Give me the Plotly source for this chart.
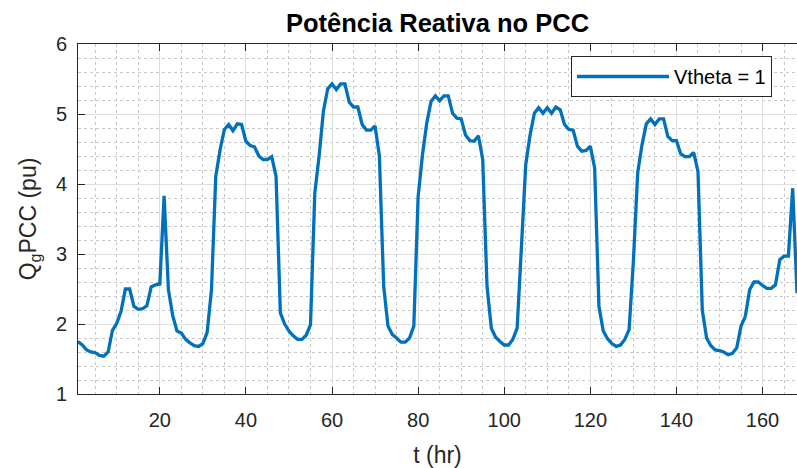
import plotly.graph_objects as go

hours = list(range(1, 169))
q_pcc = [
    1.75, 1.70, 1.63, 1.60, 1.59, 1.55, 1.54, 1.60, 1.91, 2.01, 2.18, 2.50,
    2.50, 2.25, 2.21, 2.22, 2.26, 2.53, 2.56, 2.57, 3.83, 2.49, 2.12, 1.90,
    1.87, 1.78, 1.73, 1.69, 1.68, 1.72, 1.88, 2.49, 4.11, 4.49, 4.78, 4.85,
    4.76, 4.86, 4.85, 4.61, 4.55, 4.53, 4.40, 4.35, 4.35, 4.39, 4.11, 2.16,
    2.00, 1.90, 1.83, 1.78, 1.78, 1.84, 1.99, 3.87, 4.40, 5.04, 5.36, 5.43,
    5.35, 5.43, 5.43, 5.17, 5.10, 5.10, 4.85, 4.77, 4.77, 4.83, 4.40, 2.54,
    1.97, 1.85, 1.80, 1.74, 1.74, 1.80, 1.97, 3.82, 4.41, 4.87, 5.18, 5.26,
    5.19, 5.26, 5.26, 5.01, 4.94, 4.93, 4.70, 4.62, 4.61, 4.69, 4.35, 2.54,
    1.94, 1.81, 1.75, 1.70, 1.70, 1.78, 1.94, 3.20, 4.28, 4.70, 5.01, 5.09,
    5.01, 5.09, 5.01, 5.10, 5.06, 4.85, 4.78, 4.77, 4.54, 4.47, 4.48, 4.54,
    4.23, 2.25, 1.90, 1.79, 1.72, 1.68, 1.70, 1.78, 1.92, 2.90, 4.16, 4.56,
    4.86, 4.93, 4.85, 4.93, 4.93, 4.68, 4.62, 4.62, 4.43, 4.39, 4.39, 4.45,
    4.18, 2.20, 1.80, 1.69, 1.63, 1.62, 1.60, 1.56, 1.58, 1.66, 1.97, 2.11,
    2.49, 2.60, 2.60, 2.55, 2.51, 2.51, 2.56, 2.92, 2.97, 2.97, 3.94, 2.44,
]
series_name = "Vtheta = 1"
title_text = "Potência Reativa no PCC"
x_label = "t (hr)"
y_label = "Q<sub>g</sub>PCC (pu)"
x_ticks = [20, 40, 60, 80, 100, 120, 140, 160]
y_ticks = [1, 2, 3, 4, 5, 6]

FONT = "Liberation Sans, Arial, Helvetica, sans-serif"
AX = "#262626"

W, H = 797, 468
L, T, B, R = 78, 44, 74, 0
PW, PH = W - L - R, H - T - B

fig = go.Figure()
fig.add_trace(go.Scatter(
    x=hours, y=q_pcc, mode="lines", name=series_name,
    line=dict(color="#0072BD", width=3.3),
))

fig.update_layout(
    width=W, height=H,
    paper_bgcolor="white", plot_bgcolor="white",
    margin=dict(l=L, r=R, t=T, b=B, autoexpand=False),
    font=dict(family=FONT, size=20, color=AX),
    title=dict(text="<b>" + title_text + "</b>", x=(L + PW / 2) / W, xanchor="center",
               y=1 - 23 / H, yanchor="middle", font=dict(size=25.5, color="black")),
    showlegend=True,
    legend=dict(x=(772 - L) / PW, xanchor="right", y=1 - (56 - T) / PH, yanchor="top",
                bgcolor="white", bordercolor="#262626", borderwidth=1,
                font=dict(size=20, color="black"), itemwidth=92,
                tracegroupgap=0),
)

fig.update_xaxes(
    range=[1, 168], tickmode="array", tickvals=x_ticks, ticktext=[str(v) for v in x_ticks],
    showline=True, linecolor=AX, linewidth=1, mirror="ticks",
    ticks="inside", ticklen=7, tickcolor=AX, ticklabelstandoff=8,
    showgrid=True, gridcolor="#dfdfdf", gridwidth=1,
    minor=dict(dtick=5, tick0=0, showgrid=True, gridcolor="#c8c8c8", griddash="dot", gridwidth=1, ticks=""),
    zeroline=False, automargin=False,
    title=dict(text=x_label, font=dict(size=23, color=AX), standoff=20),
    tickfont=dict(size=20, color=AX),
)
fig.update_yaxes(
    range=[1, 6], tickmode="array", tickvals=y_ticks, ticktext=[str(v) for v in y_ticks],
    showline=True, linecolor=AX, linewidth=1, mirror=False,
    ticks="inside", ticklen=7, tickcolor=AX, ticklabelstandoff=6,
    showgrid=True, gridcolor="#dfdfdf", gridwidth=1,
    minor=dict(dtick=0.2, tick0=0, showgrid=True, gridcolor="#c8c8c8", griddash="dot", gridwidth=1, ticks=""),
    zeroline=False, automargin=False,
    title=dict(text=y_label, font=dict(size=23, color=AX), standoff=12),
    tickfont=dict(size=20, color=AX),
)

fig.write_html(
    "out.html",
    config={"displayModeBar": False},
    post_script="document.body.style.margin='0px';document.body.style.overflow='hidden';",
)
